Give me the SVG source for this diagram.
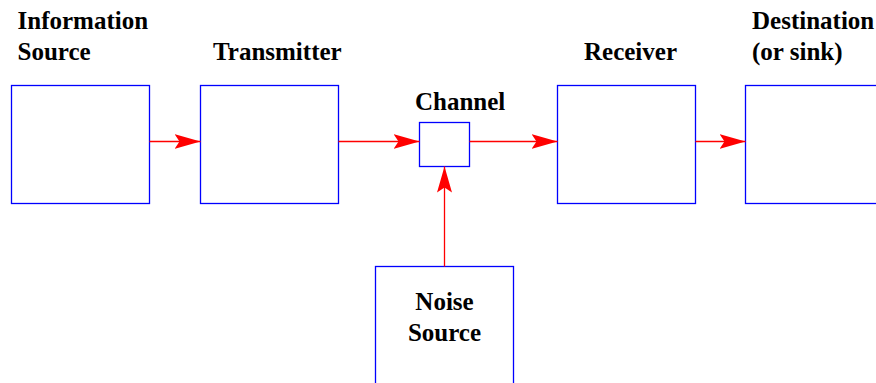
<svg xmlns="http://www.w3.org/2000/svg" width="876" height="383" viewBox="0 0 876 383">
<style>
.box{fill:#fff;stroke:#0000ff;stroke-width:1.3}
.lbl{font-family:"Liberation Serif","Times New Roman",serif;font-weight:bold;font-size:25px;fill:#000}
.conn{stroke:#ff0000;stroke-width:1.3;fill:none}
</style>
<defs>
<marker id="ah" markerUnits="userSpaceOnUse" markerWidth="30" markerHeight="20" refX="26" refY="8" orient="auto" viewBox="0 0 30 16">
<path d="M26,8 L0,0.5 L5,8 L0,15.5 Z" fill="#ff0000"/>
</marker>
</defs>
<rect width="876" height="383" fill="#fff"/>
<g id="info-source">
<rect class="box" x="11.5" y="85.5" width="138" height="118"/>
<text class="lbl" x="17.5" y="29">Information</text>
<text class="lbl" x="17.5" y="60">Source</text>
</g>
<g id="transmitter">
<rect class="box" x="200.5" y="85.5" width="138" height="118"/>
<text class="lbl" x="213" y="60">Transmitter</text>
</g>
<g id="channel">
<rect class="box" x="419.5" y="122.5" width="50" height="44"/>
<text class="lbl" x="415" y="110">Channel</text>
</g>
<g id="receiver">
<rect class="box" x="557.5" y="85.5" width="138" height="118"/>
<text class="lbl" x="584" y="60">Receiver</text>
</g>
<g id="destination">
<rect class="box" x="745.5" y="85.5" width="138" height="118"/>
<text class="lbl" x="752" y="29">Destination</text>
<text class="lbl" x="752" y="60">(or sink)</text>
</g>
<g id="noise-source">
<rect class="box" x="375.5" y="266.5" width="138" height="130"/>
<text class="lbl" x="444.5" y="310" text-anchor="middle">Noise</text>
<text class="lbl" x="444.5" y="341" text-anchor="middle">Source</text>
</g>
<g id="connectors">
<line class="conn" x1="149.5" y1="141.5" x2="200.5" y2="141.5" marker-end="url(#ah)"/>
<line class="conn" x1="338.5" y1="141.5" x2="419.5" y2="141.5" marker-end="url(#ah)"/>
<line class="conn" x1="469.5" y1="141.5" x2="557.5" y2="141.5" marker-end="url(#ah)"/>
<line class="conn" x1="695.5" y1="141.5" x2="745.5" y2="141.5" marker-end="url(#ah)"/>
<line class="conn" x1="444.5" y1="266.5" x2="444.5" y2="166.5" marker-end="url(#ah)"/>
</g>
</svg>
